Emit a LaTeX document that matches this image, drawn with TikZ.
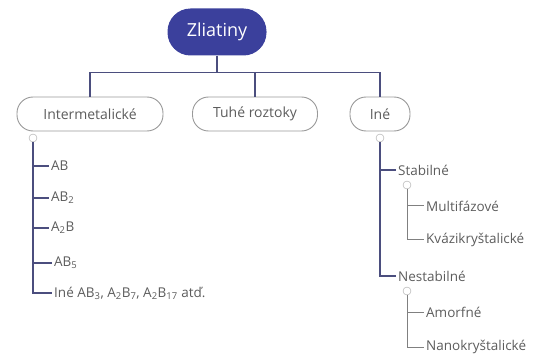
\documentclass[tikz,border=0pt]{standalone}
\usepackage{fontspec}
\setmainfont{Open Sans}
\usetikzlibrary{positioning}
\definecolor{zblue}{HTML}{3B409C}
\definecolor{zline}{HTML}{4B4E7E}
\definecolor{ztext}{HTML}{5C5C5C}

\begin{document}
\begin{tikzpicture}
    [   x=1pt,y=-1pt,
        root/.style={fill=zblue,text=white,rounded corners=23pt,minimum width=99pt,minimum height=47pt,font=\fontsize{18}{20}\selectfont},
        pill/.style={draw=gray!80,line width=0.9pt,rounded corners=16pt,minimum height=34pt,text=ztext,font=\fontsize{14}{16}\selectfont},
        leaf/.style={anchor=west,text=ztext,inner sep=2pt,font=\fontsize{13.5}{15}\selectfont},
        knob/.style={draw=gray!70,fill=white,circle,inner sep=0pt,minimum size=8pt},
        link/.style={draw=zline,line width=1.4pt},
        sublink/.style={draw=gray,line width=1pt},
    ]
        \useasboundingbox (0,0) rectangle (542,361);
        \node[root] (root) at (217,32) {Zliatiny};
        \node[pill,minimum width=146pt] (inter) at (90,114) {Intermetalické};
        \node[pill,minimum width=125pt] (tuhe) at (255,114) {Tuhé roztoky};
        \node[pill,minimum width=60pt] (ine) at (380,114) {Iné};
        \draw[link] (root.south) -- ++(0,17) coordinate (bar);
        \draw[link] (bar) -| (inter);
        \draw[link] (bar) -| (tuhe);
        \draw[link] (bar) -| (ine);
        % intermetalicke
        \node[knob] (k-1) at (33,138) {};
        \foreach \t/\x/\y [count=\i] in {AB/49/166, AB\textsubscript{2}/49/198, A\textsubscript{2}B/49/228, AB\textsubscript{5}/52/263,
            {Iné AB\textsubscript{3}, A\textsubscript{2}B\textsubscript{7}, A\textsubscript{2}B\textsubscript{17} atď.}/52/293}
        {   \node[leaf] (i-\i) at (\x,\y) {\t};
            \draw[link] (k-1) |- (i-\i.west);
        }
        % ine
        \node[knob] (k-2) at (380,138) {};
        \node[leaf] (st) at (396,170) {Stabilné};
        \node[leaf] (ns) at (396,276) {Nestabilné};
        \draw[link] (k-2) |- (st.west);
        \draw[link] (k-2) |- (ns.west);
        \node[knob] (k-3) at (407,185) {};
        \node[leaf] (mf) at (424,206) {Multifázové};
        \node[leaf] (kv) at (424,240) {Kvázikryštalické};
        \draw[sublink] (k-3) |- (mf.west);
        \draw[sublink] (k-3) |- (kv.west);
        \node[knob] (k-4) at (407,291) {};
        \node[leaf] (am) at (424,312) {Amorfné};
        \node[leaf] (nk) at (424,347) {Nanokryštalické};
        \draw[sublink] (k-4) |- (am.west);
        \draw[sublink] (k-4) |- (nk.west);
    \end{tikzpicture}
\end{document}
